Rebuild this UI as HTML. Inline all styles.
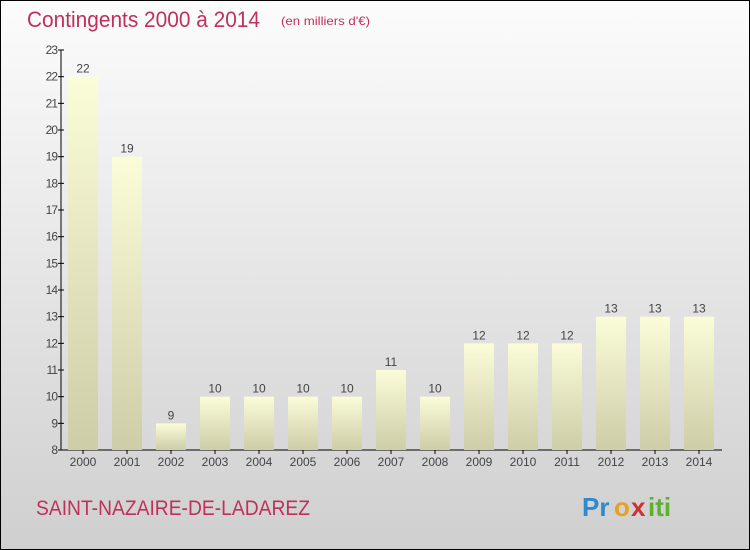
<!DOCTYPE html>
<html><head><meta charset="utf-8"><style>
body{margin:0;width:750px;height:550px;overflow:hidden;font-family:"Liberation Sans",sans-serif}
#wrap{position:absolute;left:0;top:0;width:748px;height:548px;border:1px solid #000;background:linear-gradient(#fcfcfc,#cfcfcf)}
</style></head><body>
<div id="wrap">
<svg width="750" height="550" style="position:absolute;left:-1px;top:-1px">
<defs><linearGradient id="bg" x1="0" y1="0" x2="0" y2="1"><stop offset="0" stop-color="#fbfcd8"/><stop offset="1" stop-color="#cdcda8"/></linearGradient></defs>
<text x="27" y="27" font-size="22" fill="#c0305a" textLength="233" lengthAdjust="spacingAndGlyphs">Contingents 2000 à 2014</text>
<text x="281" y="25" font-size="12" fill="#c0305a" textLength="89" lengthAdjust="spacingAndGlyphs">(en milliers d'€)</text>
<text x="36" y="515" font-size="21" fill="#c0305a" textLength="274" lengthAdjust="spacingAndGlyphs">SAINT-NAZAIRE-DE-LADAREZ</text>
<g font-size="26" font-weight="bold">
<text x="582" y="516" fill="#2b8ad0">Pr</text><text x="614" y="516" fill="#e8a020">o</text><text x="631" y="516" fill="#d03030">x</text><text x="648" y="516" fill="#60b030">iti</text></g>
<g id="axes"></g><g id="bars"></g>
</svg></div>
<script>
const years=["2000","2001","2002","2003","2004","2005","2006","2007","2008","2009","2010","2011","2012","2013","2014"];
const values=[22,19,9,10,10,10,10,11,10,12,12,12,13,13,13];
const yTicks=[8,9,10,11,12,13,14,15,16,17,18,19,20,21,22,23];
const NS="http://www.w3.org/2000/svg";
const y=v=>450-(v-8)*400/15;
const x=i=>68+44*i;
function mk(t,a,p){const e=document.createElementNS(NS,t);for(const k in a)e.setAttribute(k,a[k]);p.appendChild(e);return e;}
const ax=document.getElementById('axes'),bg=document.getElementById('bars');
const yl=mk('line',{x1:61,y1:50,x2:61,y2:450,stroke:'#000'},ax);


const xl=mk('line',{x1:61,y1:450,x2:722,y2:450,stroke:'#000'},ax);


yTicks.forEach(v=>{
 mk('line',{x1:58,y1:y(v),x2:64,y2:y(v),stroke:'#000'},ax);
 const t=mk('text',{x:57,y:y(v)+4,'font-size':12,fill:'#444','text-anchor':'end','letter-spacing':'-1'},ax);t.textContent=v;
 
 
});
years.forEach((yr,i)=>{
 const v=values[i];
 const r=mk('rect',{x:x(i),y:y(v),width:30,height:450-y(v),fill:'url(#bg)'},bg);
 
 
 const l=mk('text',{x:x(i)+15,y:y(v)-4,'font-size':12,fill:'#444','text-anchor':'middle'},bg);l.textContent=v;
 
 
 mk('line',{x1:x(i)+15,y1:450,x2:x(i)+15,y2:454,stroke:'#000'},ax);
 const t=mk('text',{x:x(i)+15,y:466,'font-size':12,fill:'#444','text-anchor':'middle'},ax);t.textContent=yr;
 
 
});
</script>
</body></html>
